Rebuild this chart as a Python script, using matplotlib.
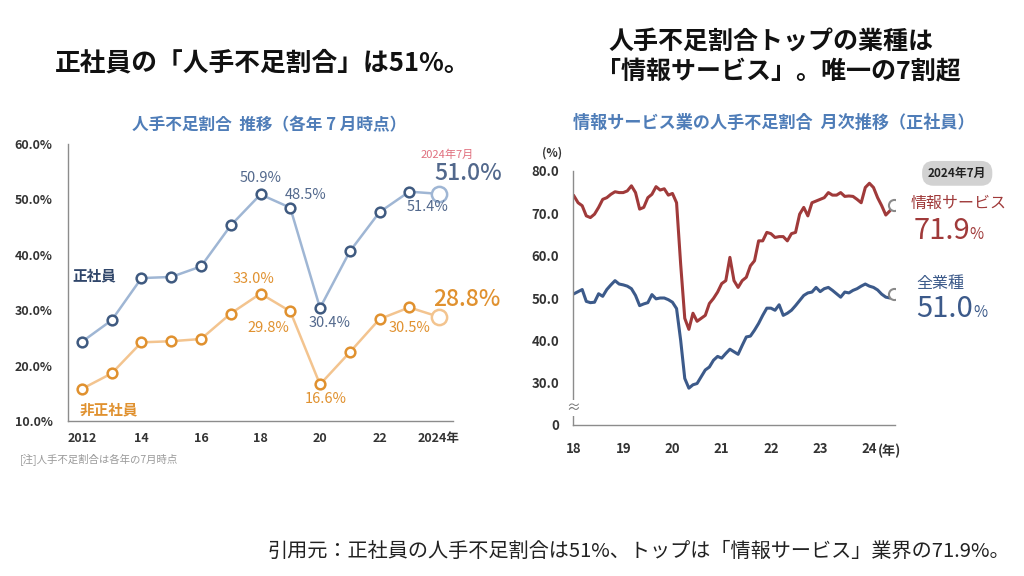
import matplotlib.pyplot as plt
import matplotlib.transforms as mtransforms

plt.rcParams['font.family'] = ['Noto Sans CJK JP', 'DejaVu Sans']

# left chart: yearly shortage ratio (July of each year)
years = list(range(2012, 2025))
regular = [24.3, 28.2, 35.8, 36.0, 37.9, 45.3, 50.9, 48.5, 30.4, 40.6, 47.7, 51.4, 51.0]
non_regular = [15.8, 18.6, 24.2, 24.4, 24.8, 29.4, 33.0, 29.8, 16.6, 22.4, 28.4, 30.5, 28.8]
year_ticks = [2012, 2014, 2016, 2018, 2020, 2022, 2024]
year_labels = ['2012', '14', '16', '18', '20', '22', '2024年']

# right chart: monthly, Jan 2018 - Jul 2024
info_service = [74.1, 72.5, 71.8, 69.4, 69.0, 69.8, 71.4, 73.3, 73.7, 74.5, 75.1, 74.9,
                74.9, 75.3, 76.5, 74.9, 71.0, 71.4, 73.7, 74.5, 76.3, 75.5, 75.8, 74.3,
                74.7, 72.5, 58.0, 45.2, 42.6, 46.4, 44.5, 45.2, 45.9, 48.7, 49.9, 51.4,
                53.4, 54.1, 59.6, 54.1, 52.5, 54.1, 54.9, 57.6, 58.8, 63.5, 63.5, 65.5,
                65.2, 64.3, 64.5, 64.5, 63.5, 65.2, 65.5, 69.8, 71.4, 69.4, 72.5, 72.9,
                73.3, 73.7, 74.9, 74.3, 74.3, 74.9, 74.0, 74.1, 74.0, 73.3, 72.5, 76.1,
                77.1, 76.1, 73.7, 71.8, 69.6, 70.6, 71.9]
all_industries = [51.0, 51.5, 52.0, 49.2, 48.9, 49.0, 51.0, 50.4, 52.0, 53.1, 54.1, 53.3,
                  53.1, 52.8, 52.2, 50.6, 48.2, 48.6, 48.9, 50.8, 49.8, 50.0, 50.0, 49.6,
                  49.0, 47.5, 40.0, 31.0, 28.7, 29.5, 29.8, 31.4, 33.0, 33.7, 35.3, 36.2,
                  35.8, 36.9, 37.9, 37.3, 36.7, 38.8, 40.8, 41.0, 42.4, 44.0, 45.9, 47.6,
                  47.6, 47.1, 48.4, 45.9, 46.4, 47.1, 48.2, 49.4, 50.6, 51.2, 51.4, 52.5,
                  51.5, 52.2, 52.5, 51.8, 51.0, 50.2, 51.4, 51.2, 51.8, 52.2, 52.8, 53.3,
                  52.8, 52.5, 51.9, 50.9, 50.2, 50.0, 51.0]
months = [2018 + i / 12 for i in range(len(info_service))]
m_ticks = [2018, 2019, 2020, 2021, 2022, 2023, 2024]
m_labels = ['18', '19', '20', '21', '22', '23', '24']
r_ticks = [20, 30, 40, 50, 60, 70, 80]
r_labels = ['0', '30.0', '40.0', '50.0', '60.0', '70.0', '80.0']

BLUE_LINE = '#9fb6d4'
BLUE_DARK = '#3f5a80'
BLUE_TXT = '#52688c'
ORANGE_LINE = '#f3c48f'
ORANGE_DARK = '#e0912f'
TITLE_BLUE = '#4f7db8'
RED = '#a03a3a'
NAVY = '#3c5a8a'

fig = plt.figure(figsize=(10.24, 5.76), dpi=100)
fig.patch.set_facecolor('white')

fig.text(263 / 1024, 1 - 63 / 576, '正社員の「人手不足割合」は51%。', ha='center', va='center',
         fontsize=18.5, fontweight='bold', color='#111111')
fig.text(771 / 1024, 1 - 42 / 576, '人手不足割合トップの業種は', ha='center', va='center',
         fontsize=18, fontweight='bold', color='#111111')
fig.text(778 / 1024, 1 - 72 / 576, '「情報サービス」。唯一の7割超', ha='center', va='center',
         fontsize=18, fontweight='bold', color='#111111')
fig.text(1010 / 1024, 1 - 551 / 576, '引用元：正社員の人手不足割合は51%、トップは「情報サービス」業界の71.9%。',
         ha='right', va='center', fontsize=14.5, color='#222222')

# ---------- left chart ----------
ax = fig.add_axes([68 / 1024, 1 - 421 / 576, 385 / 1024, 277 / 576])
ax.plot(years, regular, color=BLUE_LINE, lw=1.8, zorder=2)
ax.plot(years[:-1], regular[:-1], 'o', ms=7, mfc='white', mec=BLUE_DARK, mew=1.8, zorder=3)
ax.plot(years[-1:], regular[-1:], 'o', ms=11, mfc='white', mec=BLUE_LINE, mew=1.8, zorder=3)
ax.plot(years, non_regular, color=ORANGE_LINE, lw=1.8, zorder=2)
ax.plot(years[:-1], non_regular[:-1], 'o', ms=7, mfc='white', mec=ORANGE_DARK, mew=1.8, zorder=3)
ax.plot(years[-1:], non_regular[-1:], 'o', ms=11, mfc='white', mec=ORANGE_LINE, mew=1.8, zorder=3)

ax.set_xlim(2011.53, 2024.47)
ax.set_ylim(10, 60)
ax.set_yticks([10, 20, 30, 40, 50, 60])
ax.set_yticklabels([f'{v:.1f}%' for v in [10, 20, 30, 40, 50, 60]])
ax.set_xticks(year_ticks)
ax.set_xticklabels(year_labels)
ax.tick_params(axis='both', length=0, labelsize=9, labelcolor='#333333')
ax.tick_params(axis='y', pad=11)
ax.tick_params(axis='x', pad=8)
for lb in ax.get_xticklabels() + ax.get_yticklabels():
    lb.set_fontweight('bold')
for s in ['top', 'right']:
    ax.spines[s].set_visible(False)
for s in ['left', 'bottom']:
    ax.spines[s].set_color('#8c8c8c')
    ax.spines[s].set_linewidth(1.0)

fig.text(269 / 1024, 1 - 125 / 576, '人手不足割合  推移（各年 7 月時点）', ha='center', va='center',
         fontsize=12, fontweight='bold', color=TITLE_BLUE)

blue_notes = [(6, 0, 11.5), (7, 11, 9), (11, 13, -11.3), (8, 7, -10.6)]
for i, dx, dy in blue_notes:
    ax.annotate(f'{regular[i]:.1f}%', (years[i], regular[i]), xytext=(dx, dy),
                textcoords='offset points', ha='center', va='center',
                fontsize=10.5, color=BLUE_TXT)
orange_notes = [(6, -5, 10.3), (7, -16, -12.2), (8, 4, -10.8), (11, 0, -15)]
for i, dx, dy in orange_notes:
    ax.annotate(f'{non_regular[i]:.1f}%', (years[i], non_regular[i]), xytext=(dx, dy),
                textcoords='offset points', ha='center', va='center',
                fontsize=10.5, color=ORANGE_DARK)

ax.annotate(f'{regular[-1]:.1f}%', (years[-1], regular[-1]), xytext=(21, 14.3),
            textcoords='offset points', ha='center', va='center', fontsize=16.5,
            fontweight='medium', color=BLUE_TXT, annotation_clip=False)
ax.annotate('2024年7月', (years[-1], regular[-1]), xytext=(6, 28),
            textcoords='offset points', ha='center', va='center', fontsize=8,
            color='#e0707f', annotation_clip=False)
ax.annotate(f'{non_regular[-1]:.1f}%', (years[-1], non_regular[-1]), xytext=(20, 12.8),
            textcoords='offset points', ha='center', va='center', fontsize=16.5,
            fontweight='medium', color=ORANGE_DARK, annotation_clip=False)
ax.annotate('正社員', (years[0], regular[0]), xytext=(9, 48),
            textcoords='offset points', ha='center', va='center', fontsize=10.5,
            fontweight='bold', color='#30466a')
ax.annotate('非正社員', (years[0], non_regular[0]), xytext=(19, -14.7),
            textcoords='offset points', ha='center', va='center', fontsize=10.5,
            fontweight='bold', color=ORANGE_DARK)
fig.text(20 / 1024, 1 - 460 / 576, '[注]人手不足割合は各年の7月時点', ha='left', va='center',
         fontsize=7.5, color='#9a9a9a')

# ---------- right chart ----------
ax2 = fig.add_axes([573 / 1024, 1 - 425 / 576, 322 / 1024, 254 / 576])
ax2.plot(months, info_service, color=RED, lw=2.2, solid_joinstyle='round', zorder=2)
ax2.plot(months, all_industries, color=NAVY, lw=2.2, solid_joinstyle='round', zorder=2)
ax2.plot(months[-1:], info_service[-1:], 'o', ms=8, mfc='white', mec='#8a8a8a', mew=1.5, zorder=3)
ax2.plot(months[-1:], all_industries[-1:], 'o', ms=8, mfc='white', mec='#8a8a8a', mew=1.5, zorder=3)

ax2.set_xlim(2017.98, 2024.52)
ax2.set_ylim(20, 80)
ax2.set_yticks(r_ticks)
ax2.set_yticklabels(r_labels)
ax2.set_xticks(m_ticks)
ax2.set_xticklabels(m_labels)
ax2.tick_params(axis='both', length=0, labelsize=9.5, labelcolor='#333333')
ax2.tick_params(axis='y', pad=10)
ax2.tick_params(axis='x', pad=12)
for lb in ax2.get_xticklabels() + ax2.get_yticklabels():
    lb.set_fontweight('bold')
for s in ['top', 'right']:
    ax2.spines[s].set_visible(False)
for s in ['left', 'bottom']:
    ax2.spines[s].set_color('#8c8c8c')
    ax2.spines[s].set_linewidth(1.0)

fig.text(774 / 1024, 1 - 123 / 576, '情報サービス業の人手不足割合  月次推移（正社員）', ha='center',
         va='center', fontsize=12.3, fontweight='bold', color=TITLE_BLUE)
ax2.text(-0.065, 1.07, '(%)', transform=ax2.transAxes, ha='center', va='center',
         fontsize=8.5, fontweight='bold', color='#333333')
tr = mtransforms.blended_transform_factory(ax2.transAxes, ax2.transData)
ax2.text(0, 24, '≈', transform=tr, ha='center', va='center', fontsize=10, color='#777777',
         bbox=dict(facecolor='white', edgecolor='none', pad=0.5), zorder=5, clip_on=False)
ax2.annotate('(年)', (2024, 20), xytext=(6, -18.5), textcoords='offset points',
             ha='left', va='center', fontsize=9.5, fontweight='bold', color='#333333',
             annotation_clip=False)

end_x = months[-1]
ax2.annotate('2024年7月', (end_x, info_service[-1]), xytext=(45.5, 23),
             textcoords='offset points', ha='center', va='center', fontsize=8.5,
             fontweight='bold', color='#222222', annotation_clip=False,
             bbox=dict(boxstyle='round,pad=0.5,rounding_size=0.95', facecolor='#d2d2d2',
                       edgecolor='none'))
ax2.annotate('情報サービス', (end_x, info_service[-1]), xytext=(12, 1),
             textcoords='offset points', ha='left', va='center', fontsize=11.5,
             color=RED, annotation_clip=False)
ax2.annotate(f'{info_service[-1]:.1f}', (end_x, info_service[-1]), xytext=(14, -24),
             textcoords='offset points', ha='left', va='baseline', fontsize=21,
             color=RED, annotation_clip=False)
ax2.annotate('%', (end_x, info_service[-1]), xytext=(54, -24),
             textcoords='offset points', ha='left', va='baseline', fontsize=11,
             color=RED, annotation_clip=False)
ax2.annotate('全業種', (end_x, all_industries[-1]), xytext=(16, 7.2),
             textcoords='offset points', ha='left', va='center', fontsize=11.5,
             color=NAVY, annotation_clip=False)
ax2.annotate(f'{all_industries[-1]:.1f}', (end_x, all_industries[-1]), xytext=(16, -17),
             textcoords='offset points', ha='left', va='baseline', fontsize=21,
             color=NAVY, annotation_clip=False)
ax2.annotate('%', (end_x, all_industries[-1]), xytext=(57, -17),
             textcoords='offset points', ha='left', va='baseline', fontsize=11,
             color=NAVY, annotation_clip=False)

fig.savefig('out.png', dpi=100, facecolor='white')
